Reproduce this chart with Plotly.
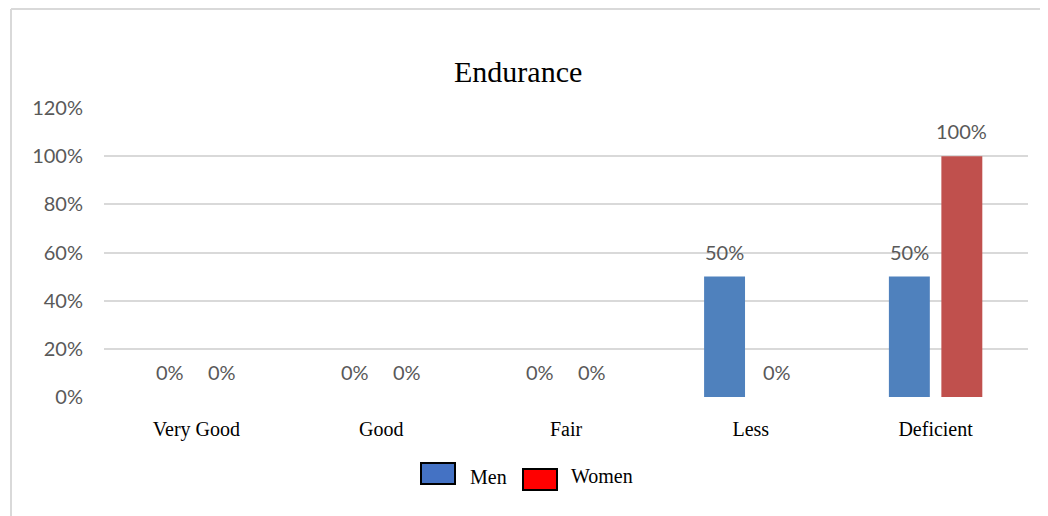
import plotly.graph_objects as go

categories = ["Very Good", "Good", "Fair", "Less", "Deficient"]
men = [0.0, 0.0, 0.0, 0.5, 0.5]
women = [0.0, 0.0, 0.0, 0.0, 1.0]
y_ticks = [0, 0.2, 0.4, 0.6, 0.8, 1.0, 1.2]
y_tick_labels = ["0%", "20%", "40%", "60%", "80%", "100%", "120%"]

# page body has an 8px margin; figure sized to fit the window
OFF = 8
W, H = 1048 - OFF, 516 - OFF
PLOT_L, PLOT_R, PLOT_T, PLOT_B = 104, 1028, 108, 397  # reference pixel coords
L, T = PLOT_L - OFF, PLOT_T - OFF
R = W - (PLOT_R - OFF)
B = H - (PLOT_B - OFF)
PW, PH = PLOT_R - PLOT_L, PLOT_B - PLOT_T

def px(x):
    return (x - PLOT_L) / PW

def py(y):
    return (PLOT_B - y) / PH

fig = go.Figure()
fig.add_trace(go.Bar(name="Men", x=categories, y=men, marker=dict(color="#4F81BD", line=dict(width=0)), showlegend=False))
fig.add_trace(go.Bar(name="Women", x=categories, y=women, marker=dict(color="#C0504D", line=dict(width=0)), showlegend=False))

annotations = []
label_font = dict(family="Lato", size=20, color="#595959")
for series, shift in ((men, -26), (women, 26)):
    for c, v in zip(categories, series):
        annotations.append(dict(x=c, y=v, xref="x", yref="y", text=f"{round(v*100)}%",
                                showarrow=False, xshift=shift, yshift=25,
                                font=label_font, xanchor="center", yanchor="middle"))

# title
annotations.append(dict(x=px(518), y=py(71), xref="paper", yref="paper", text="Endurance",
                        showarrow=False, font=dict(family="Liberation Serif", size=30, color="#000000"),
                        xanchor="center", yanchor="middle"))

# legend (custom)
legend_font = dict(family="Liberation Serif", size=20, color="#000000")
annotations.append(dict(x=px(468), y=py(477), xref="paper", yref="paper", text="Men", showarrow=False,
                        font=legend_font, xanchor="left", yanchor="middle"))
annotations.append(dict(x=px(569), y=py(476), xref="paper", yref="paper", text="Women", showarrow=False,
                        font=legend_font, xanchor="left", yanchor="middle"))

shapes = [
    dict(type="rect", xref="paper", yref="paper", x0=px(421), x1=px(455), y0=py(484), y1=py(463),
         fillcolor="#4472C4", line=dict(color="#000000", width=2)),
    dict(type="rect", xref="paper", yref="paper", x0=px(523), x1=px(557), y0=py(490), y1=py(469),
         fillcolor="#FF0000", line=dict(color="#000000", width=2)),
    # outer chart border
    dict(type="line", xref="paper", yref="paper", x0=px(11), x1=px(11), y0=py(9), y1=py(530),
         line=dict(color="#D9D9D9", width=2)),
    dict(type="line", xref="paper", yref="paper", x0=px(11), x1=px(1060), y0=py(9), y1=py(9),
         line=dict(color="#D9D9D9", width=2)),
]

fig.update_layout(
    width=W, height=H,
    margin=dict(l=L, r=R, t=T, b=B, pad=0),
    paper_bgcolor="#FFFFFF", plot_bgcolor="#FFFFFF",
    barmode="group", bargap=0.432, bargroupgap=0.22,
    showlegend=False,
    annotations=annotations,
    shapes=shapes,
    xaxis=dict(showgrid=False, showline=False, zeroline=False, ticks="",
               tickfont=dict(family="Liberation Serif", size=20, color="#000000"),
               ticklabelstandoff=18),
    yaxis=dict(range=[0, 1.2], tickvals=y_ticks, ticktext=y_tick_labels,
               showgrid=True, gridcolor="#D9D9D9", gridwidth=2,
               zeroline=False, showline=False, ticks="",
               tickfont=dict(family="Lato", size=20, color="#595959"),
               ticklabelstandoff=20),
)

fig.write_html("out.html")
